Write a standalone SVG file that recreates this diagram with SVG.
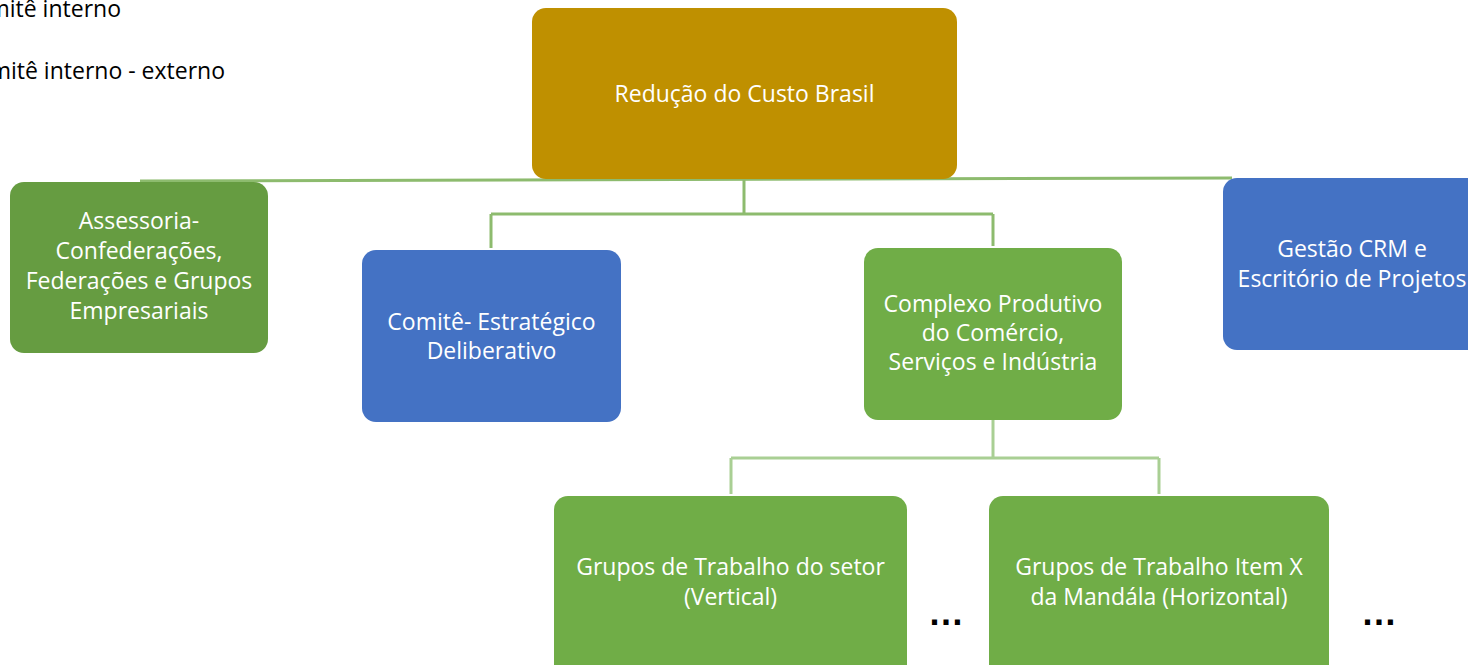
<svg xmlns="http://www.w3.org/2000/svg" width="1468" height="665" viewBox="0 0 1468 665">
<style>
.t{font-family:"Open Sans","Liberation Sans",sans-serif;font-size:23px;fill:#fff;text-anchor:middle}
.k{font-family:"Open Sans","Liberation Sans",sans-serif;font-size:23px;fill:#000}
.d{font-family:"Liberation Sans",sans-serif;font-size:36px;font-weight:bold;fill:#000;text-anchor:middle}
.c1{stroke:#8DBB6E;stroke-width:3;fill:none}
.c2{stroke:#A9CF94;stroke-width:3;fill:none}
</style>
<rect width="1468" height="665" fill="#fff"/>
<g id="legend">
<text class="k" x="121" y="17" text-anchor="end">Comitê interno</text>
<text class="k" x="225" y="79" text-anchor="end">Comitê interno - externo</text>
</g>
<g id="connectors">
<path class="c1" d="M140 181 L1232 178"/>
<path class="c1" d="M744 180 V214 M491 214 H993 M491 214 V248 M993 214 V246"/>
<path class="c2" d="M993 420 V458 M731 458 H1159 M731 458 V494 M1159 458 V494"/>
</g>
<g id="n-root">
<rect x="532" y="8" width="425" height="171" rx="14" fill="#BF9000"/>
<text class="t" x="744.5" y="102">Redução do Custo Brasil</text>
</g>
<g id="n-assessoria">
<rect x="10" y="182" width="258" height="171" rx="14" fill="#669C41"/>
<text class="t" x="139" y="229">Assessoria-</text>
<text class="t" x="139" y="259">Confederações,</text>
<text class="t" x="139" y="289">Federações e Grupos</text>
<text class="t" x="139" y="319">Empresariais</text>
</g>
<g id="n-comite">
<rect x="362" y="250" width="259" height="172" rx="14" fill="#4472C4"/>
<text class="t" x="491.5" y="330">Comitê- Estratégico</text>
<text class="t" x="491.5" y="359">Deliberativo</text>
</g>
<g id="n-complexo">
<rect x="864" y="248" width="258" height="172" rx="14" fill="#70AD47"/>
<text class="t" x="993" y="312">Complexo Produtivo</text>
<text class="t" x="993" y="341">do Comércio,</text>
<text class="t" x="993" y="370">Serviços e Indústria</text>
</g>
<g id="n-gestao">
<rect x="1223" y="178" width="270" height="172" rx="14" fill="#4472C4"/>
<text class="t" x="1352" y="257">Gestão CRM e</text>
<text class="t" x="1352" y="287">Escritório de Projetos</text>
</g>
<g id="n-vertical">
<rect x="554" y="496" width="353" height="190" rx="14" fill="#70AD47"/>
<text class="t" x="730.5" y="575">Grupos de Trabalho do setor</text>
<text class="t" x="730.5" y="605">(Vertical)</text>
</g>
<g id="n-horizontal">
<rect x="989" y="496" width="340" height="190" rx="14" fill="#70AD47"/>
<text class="t" x="1159" y="575">Grupos de Trabalho Item X</text>
<text class="t" x="1159" y="605">da Mandála (Horizontal)</text>
</g>
<g id="ellipses">
<text class="d" x="946" y="625">…</text>
<text class="d" x="1379" y="625">…</text>
</g>
</svg>
